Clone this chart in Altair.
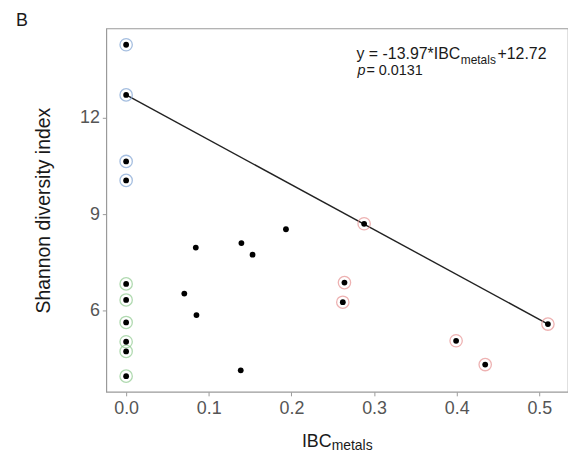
import altair as alt
import pandas as pd

FONT = "Liberation Sans"

# ---- data ----
blue_x = [0.0, 0.0, 0.0, 0.0]
blue_y = [14.28, 12.72, 10.65, 10.06]
green_x = [0.0, 0.0, 0.0, 0.0, 0.0, 0.0]
green_y = [6.84, 6.34, 5.64, 5.04, 4.74, 3.97]
red_x = [0.288, 0.2642, 0.2622, 0.3993, 0.4345, 0.5104]
red_y = [8.71, 6.88, 6.27, 5.07, 4.33, 5.59]
black_x = [0.0843, 0.0704, 0.0851, 0.1395, 0.153, 0.1387, 0.1934]
black_y = [7.97, 6.54, 5.87, 8.11, 7.75, 4.15, 8.54]

slope = -13.97
intercept = 12.72
fit_x = [0.0, 0.5104]

x_ticks = [0.0, 0.1, 0.2, 0.3, 0.4, 0.5]
y_ticks = [6, 9, 12]
x_domain = [-0.024, 0.5347]
y_domain = [3.481, 14.787]

groups = (["blue"] * len(blue_x) + ["green"] * len(green_x)
          + ["red"] * len(red_x) + ["none"] * len(black_x))
pts = pd.DataFrame({
    "x": blue_x + green_x + red_x + black_x,
    "y": blue_y + green_y + red_y + black_y,
    "g": groups,
})
ringed = pts[pts["g"] != "none"]
fit = pd.DataFrame({"x": fit_x, "y": [intercept + slope * v for v in fit_x]})

xs = alt.Scale(domain=x_domain, nice=False, zero=False)
ys = alt.Scale(domain=y_domain, nice=False, zero=False)

X = alt.X("x:Q", scale=xs, axis=alt.Axis(values=x_ticks, format=".1f", title=None,
                                          grid=False, domain=False))
Y = alt.Y("y:Q", scale=ys, axis=alt.Axis(values=y_ticks, format="d",
                                          title="Shannon diversity index",
                                          grid=False, domain=False))

rings = alt.Chart(ringed).mark_point(shape="circle", filled=False, size=155,
                                     strokeWidth=1.3).encode(
    x=X, y=Y,
    color=alt.Color("g:N", scale=alt.Scale(domain=["blue", "green", "red"],
                                           range=["#7fa3d3", "#90cb90", "#e79292"]),
                    legend=None),
)
line = alt.Chart(fit).mark_line(color="#222222", strokeWidth=1.4).encode(x=X, y=Y)
dots = alt.Chart(pts).mark_point(shape="circle", filled=True, size=34,
                                 color="#000000", opacity=1).encode(x=X, y=Y)

def txt(s, x, y, size=16, color="#1a1a1a", style="normal", weight="normal"):
    return alt.Chart(pd.DataFrame({"t": [s]})).mark_text(
        align="left", baseline="alphabetic", font=FONT, fontSize=size,
        color=color, fontStyle=style, fontWeight=weight,
    ).encode(x=alt.value(x), y=alt.value(y), text="t:N")

labels = [
    txt("IBC", 197, 422, 18),
    txt("metals", 227, 425, 14),
    txt("y = -13.97*IBC", 252, 31, 16),
    txt("metals", 357, 36, 12),
    txt("+12.72", 394, 31, 16),
    txt("p", 253, 47, 14.5, style="italic"),
    txt("= 0.0131", 262, 47, 14.5),
    txt("B", -91, -2, 18),
]

chart = alt.layer(line, rings, dots, *labels).properties(
    width=465, height=366,
    autosize=alt.AutoSizeParams(type="none"),
    padding={"left": 99, "top": 19, "right": 0, "bottom": 60},
).configure_view(
    stroke="#9a9a9a", strokeWidth=1.2
).configure_axis(
    labelFont=FONT, labelFontSize=18, labelColor="#555555",
    titleFont=FONT, titleFontSize=19.5, titleColor="#1a1a1a", titleFontWeight="normal",
    tickColor="#9a9a9a", tickSize=4, labelPadding=3,
).configure_axisY(titlePadding=26).configure_axisX(labelPadding=4)

chart.save("out.html", embed_options={"renderer": "svg", "actions": False})
